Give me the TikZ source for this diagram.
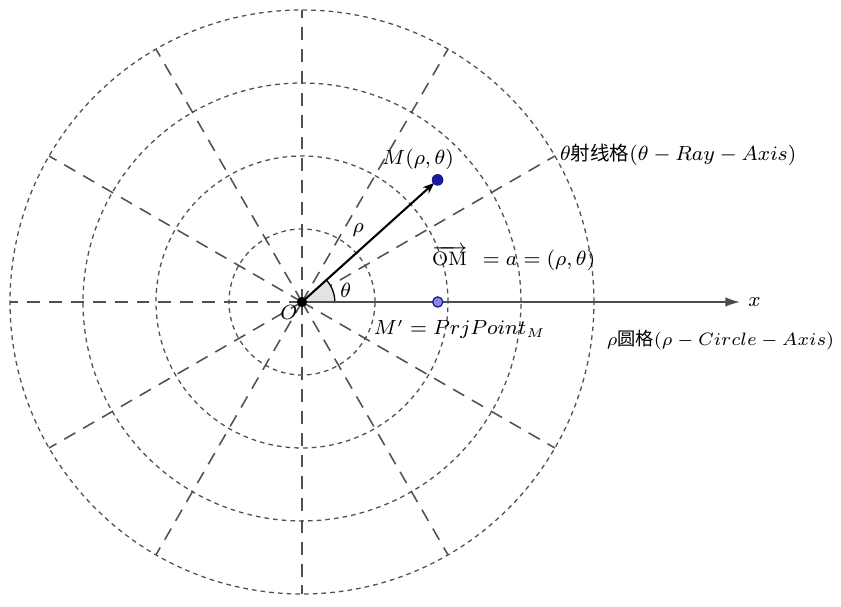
\documentclass[tikz,border=0pt]{standalone}
\usepackage{fontspec}
\newfontfamily\cjk{Noto Sans CJK SC}
\usetikzlibrary{arrows.meta}
\definecolor{gridgray}{HTML}{505050}
\definecolor{mblue}{HTML}{1A1A9A}
\definecolor{mpale}{HTML}{8A8AD6}
\tikzset{
  ringline/.style={gridgray, dash pattern=on 1.8pt off 1.6pt, line width=0.5pt},
  rayline/.style={gridgray, dash pattern=on 5pt off 3.5pt, line width=0.6pt},
  lbl/.style={font=\fontsize{7.6}{9}\selectfont, inner sep=0pt},
}
\begin{document}
\begin{tikzpicture}
  \useasboundingbox (-4.137,-4.178) rectangle (7.384,4.137);

  \coordinate (O) at (0,0);
  \coordinate (M) at (42:2.5);
  \coordinate (Mp) at (1.86,0);
  \coordinate (xend) at (6.0,0);

  % grid: circles and rays
  \foreach \r in {1,2,3,4} \draw[ringline] (O) circle (\r);
  \foreach \a in {30,60,...,330} \draw[rayline] (O) -- (\a:4);

  % angle
  \fill[gray!22] (O) -- (0.45,0) arc (0:42:0.45) -- cycle;
  \draw[line width=0.5pt] (0.45,0) arc (0:42:0.45);

  \draw[gray!60!black, line width=0.6pt, -{Latex[length=2mm,width=1.3mm]}] (O) -- (xend);
  \draw[line width=0.8pt, -{Stealth[length=1.6mm,width=1.2mm]}, shorten >=0.06cm] (O) -- (M);

  \fill[black] (O) circle (0.07);
  \fill[mblue] (M) circle (0.08);
  \filldraw[fill=mpale, draw=mblue, line width=0.5pt] (Mp) circle (0.07);

  \node[lbl] (xlbl) at (6.2,0) {$x$};
  \node[lbl] (olbl) at (-0.18,-0.14) {$O$};
  \node[lbl] (thlbl) at (0.6,0.16) {$\theta$};
  \node[lbl] (rholbl) at (0.77,0.99) {$\rho$};
  \node[lbl] (mlbl) at (1.59,1.95) {$M(\rho,\theta)$};
  \node[lbl] (omlbl) at (2.9,0.6) {$\overrightarrow{\mathrm{OM}}\;\, = a = (\rho,\theta)$};
  \node[lbl] (mplbl) at (2.16,-0.38) {$M' = PrjPoint_M$};
  \node[lbl, anchor=west] (raylbl) at (3.53,2.01) {$\theta$\cjk{射线格}$(\theta - Ray - Axis)$};
  \node[lbl, anchor=west, font=\fontsize{7.1}{9}\selectfont] (ringlbl) at (4.17,-0.52) {$\rho$\cjk{圆格}$(\rho - Circle - Axis)$};
\end{tikzpicture}
\end{document}
